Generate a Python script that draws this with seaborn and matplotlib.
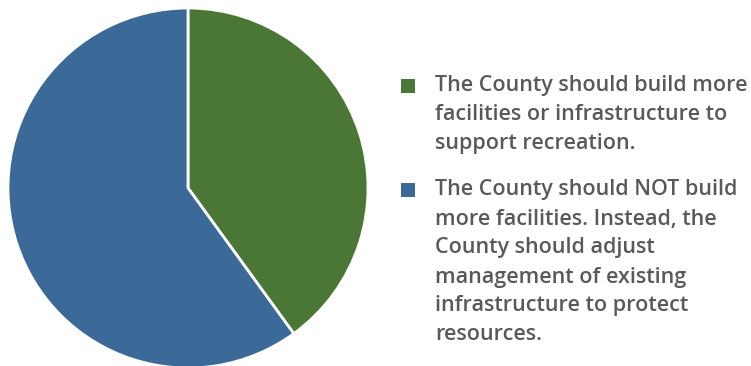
import matplotlib
matplotlib.use("Agg")
import matplotlib.pyplot as plt
from matplotlib.patches import Rectangle
import seaborn as sns

# Survey responses (share of respondents, %)
labels = [
    "The County should build more\nfacilities or infrastructure to\nsupport recreation.",
    "The County should NOT build\nmore facilities. Instead, the\nCounty should adjust\nmanagement of existing\ninfrastructure to protect\nresources.",
]
shares = [40, 60]
colors = ["#4a7735", "#3b6a98"]

sns.set_theme(style="white")
plt.rcParams["font.family"] = ["Open Sans", "DejaVu Sans"]

W, H = 751, 366
fig = plt.figure(figsize=(W / 100, H / 100), dpi=100)
fig.patch.set_facecolor("white")

# Pie occupies the left part of the canvas
ax = fig.add_axes([8 / W, -2 / H, 360 / W, 360 / H])
ax.pie(
    shares,
    colors=colors,
    startangle=90,
    counterclock=False,
    radius=1.0,
    wedgeprops=dict(edgecolor="white", linewidth=2),
)
ax.set_xlim(-1, 1)
ax.set_ylim(-1, 1)
ax.set_aspect("equal")
ax.axis("off")

# Legend built from squares and wrapped text
text_color = "#595959"
line_h = 29
y_first = [86, 190]
for lab, col, y in zip(labels, colors, y_first):
    fig.add_artist(Rectangle((401 / W, 1 - (y + 7) / H), 14 / W, 14 / H,
                             transform=fig.transFigure, facecolor=col,
                             edgecolor="none"))
    for i, line in enumerate(lab.split("\n")):
        fig.text(435 / W, 1 - (y + i * line_h) / H, line, fontsize=15.5,
                 fontweight="semibold", color=text_color, va="center",
                 ha="left")

fig.savefig("out.png", dpi=100)
